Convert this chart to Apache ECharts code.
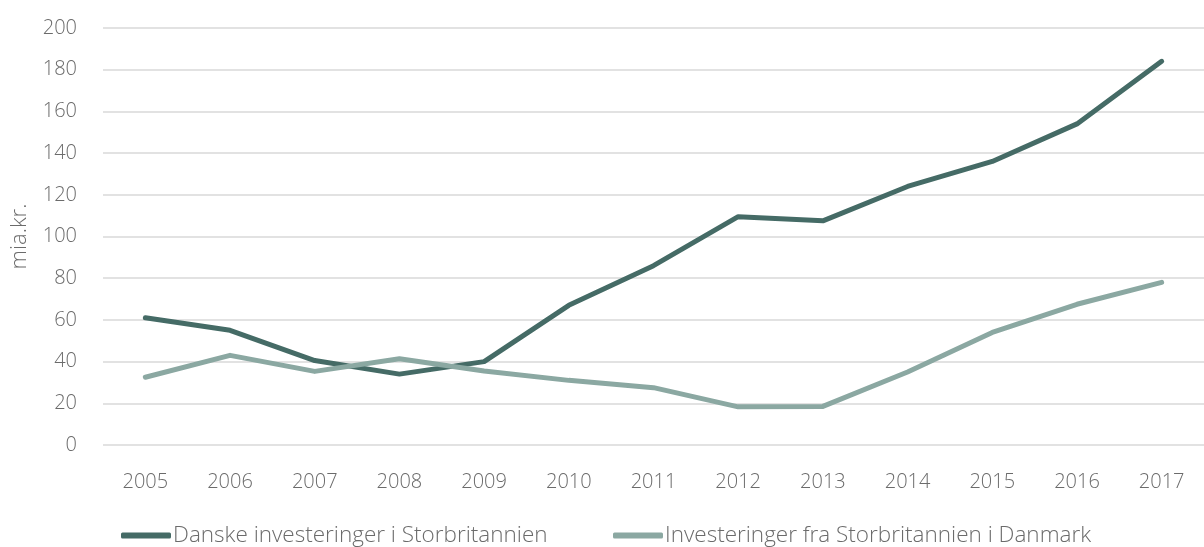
<!DOCTYPE html>
<html>
<head>
<meta charset="utf-8">
<script src="https://cdn.jsdelivr.net/npm/echarts@6/dist/echarts.min.js"></script>
<style>
html,body{margin:0;padding:0;background:#fff;}
#chart{width:1204px;height:547px;}
</style>
</head>
<body>
<div id="chart"></div>
<script>
const years = ['2005','2006','2007','2008','2009','2010','2011','2012','2013','2014','2015','2016','2017'];
const danske = [61, 55, 40.5, 34, 40, 67, 86, 109.5, 107.5, 124, 136, 154, 184];
const fraUK = [32.5, 43, 35.3, 41.4, 35.5, 31, 27.5, 18.3, 18.5, 35, 54, 67.5, 78];
const seriesNames = ['Danske investeringer i Storbritannien', 'Investeringer fra Storbritannien i Danmark'];
const yTitle = 'mia.kr.';

const FONT = '"Open Sans", "Noto Sans", sans-serif';
const TXT = '#6b6b6b';
const c1 = '#456b66', c2 = '#8ba8a2';

const chart = echarts.init(document.getElementById('chart'), null, {renderer: 'canvas'});
const legendCommon = {
  bottom: 0, itemWidth: 50, itemHeight: 6, icon: 'roundRect', itemGap: 4, padding: 0,
  textStyle: {fontFamily: FONT, fontSize: 22.5, color: TXT, fontWeight: 300, padding: [0,0,0,-3]}
};
chart.setOption({
  animation: false,
  grid: {left: 103, top: 28, width: 1127, bottom: 102, containLabel: false},
  legend: [
    Object.assign({left: 121, data: [seriesNames[0]]}, legendCommon),
    Object.assign({left: 613, data: [seriesNames[1]]}, legendCommon)
  ],
  xAxis: {
    type: 'category', data: years, boundaryGap: true,
    axisLine: {show: false}, axisTick: {show: false},
    axisLabel: {fontFamily: FONT, fontSize: 20, color: TXT, margin: 27, fontWeight: 300}
  },
  yAxis: {
    type: 'value', min: 0, max: 200, interval: 20,
    name: yTitle, nameLocation: 'middle', nameRotate: 90, nameGap: 72,
    nameTextStyle: {fontFamily: FONT, fontSize: 22, color: TXT, fontWeight: 300},
    axisLine: {show: false}, axisTick: {show: false},
    axisLabel: {fontFamily: FONT, fontSize: 20, color: TXT, margin: 26, fontWeight: 300},
    splitLine: {lineStyle: {color: '#d9d9d9', width: 1.5}}
  },
  series: [
    {name: seriesNames[0], type: 'line', data: danske, symbol: 'none', color: c1,
     lineStyle: {width: 5, color: c1, cap: 'round', join: 'round'}},
    {name: seriesNames[1], type: 'line', data: fraUK, symbol: 'none', color: c2,
     lineStyle: {width: 5, color: c2, cap: 'round', join: 'round'}}
  ]
});
</script>
</body>
</html>
